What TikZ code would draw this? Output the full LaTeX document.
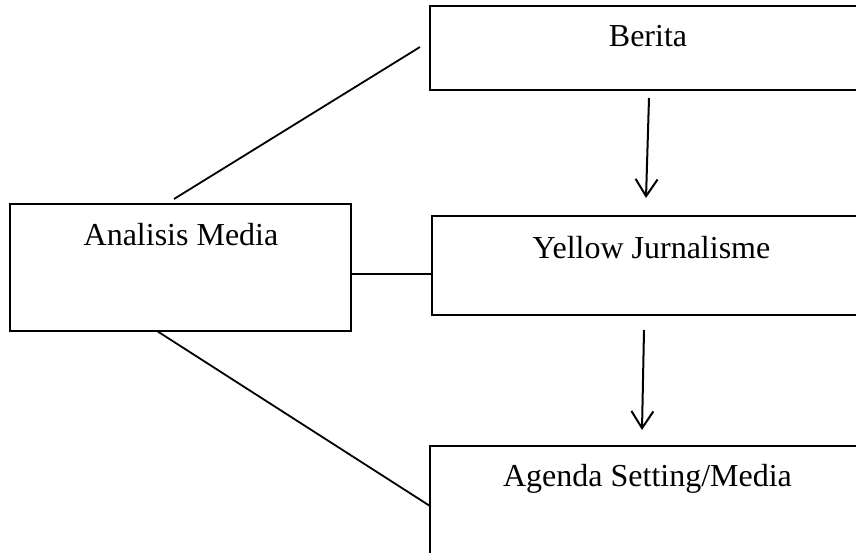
\documentclass[tikz,border=0pt]{standalone}
\usepackage{fontspec}
\setmainfont{Liberation Serif}
\usetikzlibrary{arrows.meta,calc}
\tikzset{
  boxnode/.style={draw, line width=2pt, rectangle, inner sep=0pt, outer sep=0pt},
  labeltext/.style={anchor=base, inner sep=0pt, font=\fontsize{32}{37}\selectfont},
  link/.style={line width=1.8pt},
  flow/.style={line width=2pt, -{Straight Barb[length=17pt,width=22pt,line width=2pt]}}
}
\begin{document}
\begin{tikzpicture}[x=1pt,y=-1pt]
\useasboundingbox (0,0) rectangle (856,552);
\clip (0,0) rectangle (856,552);
\fill[white] (0,0) rectangle (856,552);
% boxes
\node[boxnode, minimum width=436pt, minimum height=84pt] (be) at (648,48) {};
\node[boxnode, minimum width=434pt, minimum height=99pt] (yj) at (649,265.5) {};
\node[boxnode, minimum width=436pt, minimum height=129pt] (ag) at (648,510.5) {};
\node[boxnode, minimum width=341pt, minimum height=127pt] (am) at (180.5,267.5) {};
% texts
\node[labeltext] (tbe) at (648,46.7) {Berita};
\node[labeltext] (tyj) at (651.5,258.3) {Yellow Jurnalisme};
\node[labeltext] (tag) at (647.5,486.7) {Agenda Setting/Media};
\node[labeltext] (tam) at (181,245) {Analisis Media};
% connectors
\draw[link] ([xshift=-6.5pt,yshift=5pt]am.north) -- ([xshift=-10pt,yshift=1pt]be.west);
\draw[link] ([yshift=-6.5pt]am.east) -- ([yshift=-8.5pt]yj.west);
\draw[link] ([xshift=-23.5pt]am.south) -- ([yshift=-60pt]ag.north west);
\draw[flow] ([xshift=1pt,yshift=-8pt]be.south) -- ([xshift=-3pt,yshift=18pt]yj.north);
\draw[flow] ([xshift=-5pt,yshift=-15pt]yj.south) -- ([xshift=-6pt,yshift=16pt]ag.north);
\end{tikzpicture}
\end{document}
